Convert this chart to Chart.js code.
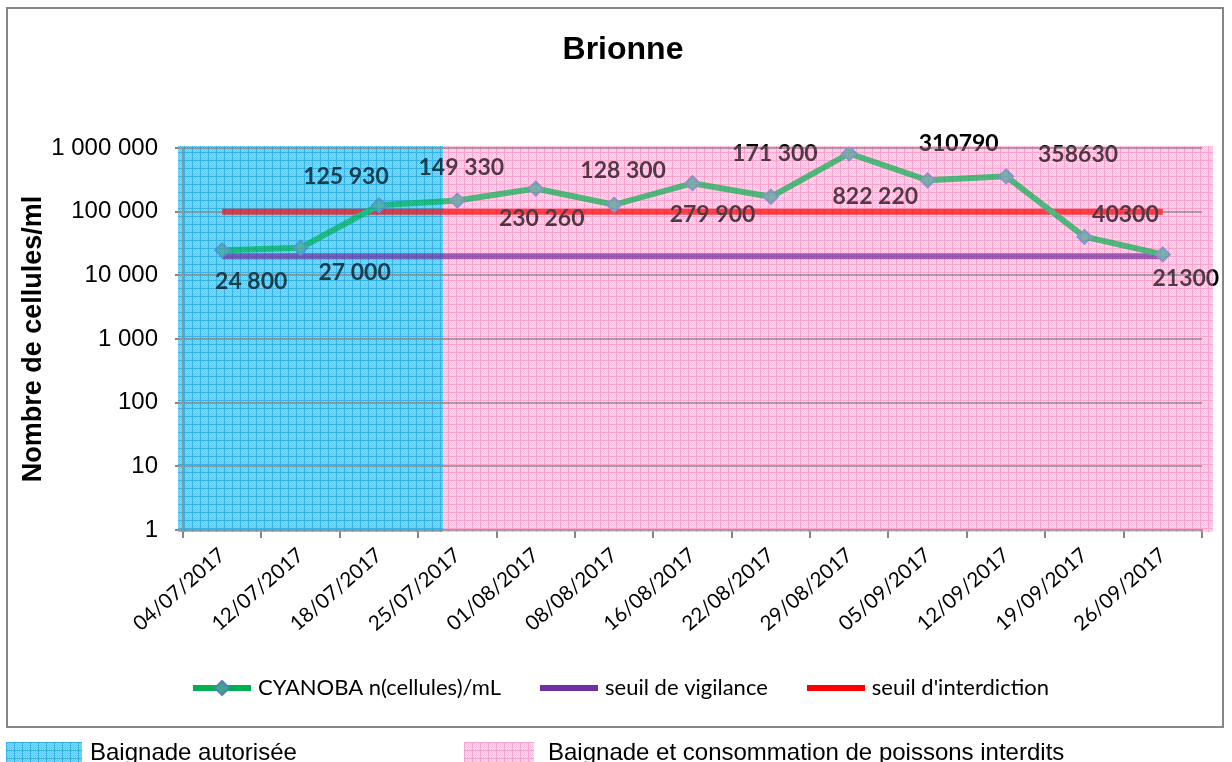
<!DOCTYPE html>
<html>
<head>
<meta charset="utf-8">
<script src="https://cdn.jsdelivr.net/npm/chart.js@4/dist/chart.umd.min.js"></script>
<style>
  body { margin: 0; background: #fff; width: 1232px; height: 762px; overflow: hidden; position: relative; }
  #box { position: absolute; left: 6px; top: 7px; width: 1214px; height: 717px; border: 2px solid #868686; }
  #c { position: absolute; left: 0; top: 0; }
  .sw { position: absolute; top: 742px; }
  .lg { position: absolute; top: 740px; font: 24px "Liberation Sans", Arial, sans-serif; line-height: 24px; color: #000; white-space: nowrap; }
</style>
</head>
<body>
<div id="box"></div>
<canvas id="c" width="1232" height="762"></canvas>
<canvas class="sw" id="swBlue" width="76" height="20" style="left:6px"></canvas>
<div class="lg" style="left:90px">Baignade autorisée</div>
<canvas class="sw" id="swPink" width="70" height="20" style="left:464px"></canvas>
<div class="lg" style="left:548px">Baignade et consommation de poissons interdits</div>
<script>
// données
const dates = ['04/07/2017', '12/07/2017', '18/07/2017', '25/07/2017', '01/08/2017', '08/08/2017',
  '16/08/2017', '22/08/2017', '29/08/2017', '05/09/2017', '12/09/2017', '19/09/2017', '26/09/2017'];
const cyanoba = [24800, 27000, 125930, 149330, 230260, 128300, 279900, 171300, 822220, 310790, 358630, 40300, 21300];
const pointLabels = ['24 800', '27 000', '125 930', '149 330', '230 260', '128 300', '279 900',
  '171 300', '822 220', '310790', '358630', '40300', '21300'];
const seuilVigilance = [20000, 20000, 20000, 20000, 20000, 20000, 20000, 20000, 20000, 20000, 20000, 20000, 20000];
const seuilInterdiction = [100000, 100000, 100000, 100000, 100000, 100000, 100000, 100000, 100000, 100000, 100000, 100000, 100000];
const yTickValues = [1, 10, 100, 1000, 10000, 100000, 1000000];
const yTickLabels = ['1', '10', '100', '1 000', '10 000', '100 000', '1 000 000'];

// décalage des étiquettes (px) par rapport au point
const labelShift = [[29, 31], [54, 25], [-33, -29], [4, -33], [6, 30], [9, -34], [20, 31],
  [4, -43], [26, 43], [31, -37], [72, -22], [41, -22], [23, 24]];
const zoneSplit = 2.82; // limite entre zone bleue et zone rose (en index de catégorie)

const GREEN = '#00B050', PURPLE = '#7030A0', RED = '#FF0000';

function makeTile(cellA, cellB, line) {
  const t = document.createElement('canvas');
  t.width = t.height = 8;
  const g = t.getContext('2d');
  for (let y = 0; y < 8; y++) {
    for (let x = 0; x < 8; x++) {
      g.fillStyle = (x === 0 || y === 0) ? line : ((x + y) % 2 ? cellA : cellB);
      g.fillRect(x, y, 1, 1);
    }
  }
  return t;
}
const blueTile = makeTile('#8ad8f4', '#5ec7ee', '#36b3e6');
const pinkTile = makeTile('#ffd6ea', '#ffc2e0', '#f9a4ce');

function fillSwatch(id, tile) {
  const cv = document.getElementById(id), g = cv.getContext('2d');
  g.fillStyle = g.createPattern(tile, 'repeat');
  g.fillRect(0, 0, cv.width, cv.height);
}
fillSwatch('swBlue', blueTile);
fillSwatch('swPink', pinkTile);

function lineSample(color, marker) {
  const cv = document.createElement('canvas');
  cv.width = 58; cv.height = 16;
  const g = cv.getContext('2d');
  g.strokeStyle = color; g.lineWidth = 6;
  g.beginPath(); g.moveTo(0, 8); g.lineTo(58, 8); g.stroke();
  if (marker) {
    g.beginPath();
    g.moveTo(29, 1); g.lineTo(36, 8); g.lineTo(29, 15); g.lineTo(22, 8); g.closePath();
    g.fillStyle = '#3fa58a'; g.fill();
    g.strokeStyle = '#4F81BD'; g.lineWidth = 2; g.stroke();
  }
  return cv;
}
const samples = [lineSample(GREEN, true), lineSample(PURPLE), lineSample(RED)];

const valueLabels = {
  id: 'valueLabels',
  afterDatasetsDraw(chart) {
    const ctx = chart.ctx;
    const meta = chart.getDatasetMeta(0);
    ctx.save();
    ctx.font = 'bold 23px Lato';
    ctx.fillStyle = '#000';
    ctx.textAlign = 'center';
    ctx.textBaseline = 'middle';
    meta.data.forEach((pt, i) => {
      ctx.fillText(pointLabels[i], pt.x + labelShift[i][0], pt.y + labelShift[i][1]);
    });
    ctx.restore();
  }
};

// zones hachurées : fond opaque + voile léger par-dessus
function paintZones(chart, alpha) {
  const ctx = chart.ctx, xs = chart.scales.x, ys = chart.scales.y;
  const top = ys.top - 2, bottom = ys.bottom + 2;
  const left = xs.left - 5, right = xs.right + 11;
  const split = xs.getPixelForValue(zoneSplit);
  ctx.save();
  ctx.globalAlpha = alpha;
  ctx.fillStyle = ctx.createPattern(blueTile, 'repeat');
  ctx.fillRect(left, top, split - left, bottom - top);
  ctx.fillStyle = ctx.createPattern(pinkTile, 'repeat');
  ctx.fillRect(split, top, right - split, bottom - top);
  ctx.restore();
}
const zones = {
  id: 'zones',
  beforeDraw(chart) { paintZones(chart, 1); },
  afterDraw(chart) { paintZones(chart, 0.3); }
};

new Chart(document.getElementById('c'), {
  type: 'line',
  data: {
    labels: dates,
    datasets: [{
      label: 'CYANOBA n(cellules)/mL',
      data: cyanoba,
      borderColor: GREEN,
      borderWidth: 6,
      pointStyle: 'rectRot',
      pointRadius: 7,
      pointBackgroundColor: '#3fa58a',
      pointBorderColor: '#4F81BD',
      pointBorderWidth: 2
    }, {
      label: 'seuil de vigilance',
      data: seuilVigilance,
      borderColor: PURPLE,
      borderWidth: 6,
      pointRadius: 0
    }, {
      label: "seuil d'interdiction",
      data: seuilInterdiction,
      borderColor: RED,
      borderWidth: 6,
      pointRadius: 0
    }]
  },
  options: {
    responsive: false,
    animation: false,
    layout: { padding: { left: 44, right: 30, top: 9, bottom: 53 } },
    plugins: {
      title: {
        display: true,
        text: 'Brionne',
        color: '#000',
        font: { family: 'Liberation Sans', size: 32, weight: 'bold' },
        padding: { top: 22, bottom: 78.6 }
      },
      legend: {
        position: 'bottom',
        labels: {
          usePointStyle: true,
          pointStyleWidth: 50,
          padding: 43,
          color: '#000',
          font: { family: 'Lato', size: 22 },
          generateLabels: chart => Chart.defaults.plugins.legend.labels.generateLabels(chart)
            .map((it, i) => ({ ...it, pointStyle: samples[i] }))
        }
      },
      tooltip: { enabled: false }
    },
    scales: {
      x: {
        offset: true,
        grid: { offset: true, drawOnChartArea: false, tickLength: 8, color: '#868686', lineWidth: 2 },
        border: { color: '#868686', width: 2 },
        ticks: {
          autoSkip: false, minRotation: 41, maxRotation: 41, padding: 5,
          color: '#000', font: { family: 'Lato', size: 20.5 }
        },
        afterFit: s => { s.height = 104; }
      },
      y: {
        type: 'logarithmic',
        min: 1,
        max: 1000000,
        grid: { color: '#868686', lineWidth: 2, tickLength: 8 },
        border: { color: '#868686', width: 2 },
        ticks: {
          padding: 17, color: '#000',
          font: { family: 'Liberation Sans', size: 24 },
          callback: v => yTickLabels[yTickValues.indexOf(v)]
        },
        afterBuildTicks: s => { s.ticks = yTickValues.map(v => ({ value: v })); },
        title: {
          display: true,
          text: 'Nombre de cellules/ml',
          color: '#000',
          font: { family: 'Liberation Sans', size: 27, weight: 'bold' },
          padding: { top: -27, bottom: 0 }
        },
        afterFit: s => { s.width = 139; }
      }
    }
  },
  plugins: [valueLabels, zones]
});
</script>
</body>
</html>
